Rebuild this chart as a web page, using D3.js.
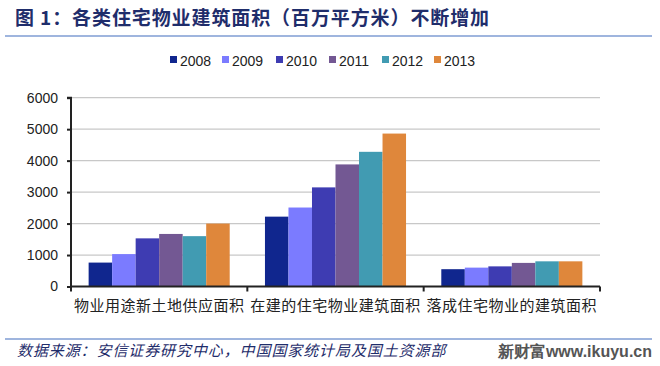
<!DOCTYPE html>
<html><head><meta charset="utf-8">
<script src="https://cdn.jsdelivr.net/npm/d3@7/dist/d3.min.js"></script>
<style>body{margin:0;background:#fff}svg{display:block}</style>
</head><body>
<svg id="c" width="660" height="366"></svg>
<script>
const categories = ["物业用途新土地供应面积", "在建的住宅物业建筑面积", "落成住宅物业的建筑面积"];
const years = ["2008", "2009", "2010", "2011", "2012", "2013"];
const v2008 = [760, 2220, 550];
const v2009 = [1030, 2510, 600];
const v2010 = [1530, 3150, 640];
const v2011 = [1670, 3880, 750];
const v2012 = [1600, 4280, 800];
const v2013 = [2000, 4860, 800];
const yTicks = [0, 1000, 2000, 3000, 4000, 5000, 6000];
const colors = ["#10268E", "#7B7BFF", "#3E3CB2", "#735893", "#419BB2", "#DF873B"];
const series = [v2008, v2009, v2010, v2011, v2012, v2013];

(function () {
const svg = d3.select("#c");
const pL = 71, pR = 600, pT = 97.7, pB = 286.5;

const x0 = d3.scaleBand().domain(categories).range([pL, pR]).paddingInner(0).paddingOuter(0);
const x1 = d3.scaleBand().domain(years).range([0, x0.bandwidth()]).paddingInner(0).paddingOuter(0.75);
const y = d3.scaleLinear().domain([0, 6000]).range([pB, pT]);

// title
svg.append("text").attr("x", 15).attr("y", 25).attr("font-family", "Noto Sans CJK SC")
  .attr("font-weight", "bold").attr("font-size", 19).attr("letter-spacing", 0.9).attr("fill", "#1F2D6B")
  .text("图 1：各类住宅物业建筑面积（百万平方米）不断增加");
svg.append("line").attr("x1", 5).attr("x2", 652).attr("y1", 36).attr("y2", 36)
  .attr("stroke", "#7F9CD3").attr("stroke-width", 1.5);

// gridlines
svg.append("g").selectAll("line").data(yTicks.filter(d => d > 0)).join("line")
  .attr("x1", pL).attr("x2", pR).attr("y1", d => y(d)).attr("y2", d => y(d))
  .attr("stroke", "#C8C8C8").attr("stroke-width", 1.2);

// bars
const g = svg.append("g");
categories.forEach((c, ci) => {
  years.forEach((yr, si) => {
    const val = series[si][ci];
    g.append("rect").attr("x", x0(c) + x1(yr)).attr("width", x1.bandwidth())
      .attr("y", y(val)).attr("height", y(0) - y(val)).attr("fill", colors[si]);
  });
});

// y axis
const ya = svg.append("g").attr("transform", `translate(${pL},0)`)
  .call(d3.axisLeft(y).tickValues(yTicks).tickFormat(d3.format("d")).tickSize(4).tickPadding(9));
ya.select(".domain").attr("stroke", "#222").attr("stroke-width", 2).attr("d", `M-4,${pT}H0V${pB}`);
ya.selectAll(".tick line").attr("stroke", "#222").attr("stroke-width", 2);
ya.selectAll("text").attr("font-family", "Liberation Sans, Arial").attr("font-size", 14).attr("fill", "#222");

// x axis
const xa = svg.append("g").attr("transform", `translate(0,${pB})`)
  .call(d3.axisBottom(x0).tickSize(0).tickPadding(14));
xa.select(".domain").attr("stroke", "#222").attr("stroke-width", 2).attr("d", `M${pL},0H${pR}`);
xa.selectAll("text").attr("font-family", "Noto Sans CJK SC").attr("font-size", 15)
  .attr("letter-spacing", 0.5).attr("fill", "#222");
const bounds = [pL, pL + x0.bandwidth(), pL + 2 * x0.bandwidth(), pR];
xa.append("g").selectAll("line").data(bounds).join("line")
  .attr("x1", d => d).attr("x2", d => d).attr("y1", 0).attr("y2", 5)
  .attr("stroke", "#222").attr("stroke-width", 2);

// legend
const legX = [170, 222, 276, 329, 382, 434];
const lg = svg.append("g");
years.forEach((yr, i) => {
  lg.append("rect").attr("x", legX[i]).attr("y", 56).attr("width", 7).attr("height", 7).attr("fill", colors[i]);
  lg.append("text").attr("x", legX[i] + 10).attr("y", 65.5).attr("font-family", "Liberation Sans, Arial")
    .attr("font-size", 14).attr("fill", "#222").text(yr);
});

// footer
svg.append("line").attr("x1", 5).attr("x2", 652).attr("y1", 339).attr("y2", 339)
  .attr("stroke", "#7F9CD3").attr("stroke-width", 1.5);
svg.append("text").attr("x", 17).attr("y", 356).attr("font-family", "Noto Sans CJK SC")
  .attr("font-size", 15).attr("letter-spacing", 0.9).attr("font-style", "italic").attr("fill", "#1F2D6B")
  .text("数据来源：安信证券研究中心，中国国家统计局及国土资源部");
svg.append("text").attr("x", 652).attr("y", 357).attr("text-anchor", "end").attr("font-family", "Liberation Sans, Arial")
  .attr("font-weight", "bold").attr("font-size", 16).attr("fill", "#555")
  .text("新财富www.ikuyu.cn");
})();
</script>
</body></html>
